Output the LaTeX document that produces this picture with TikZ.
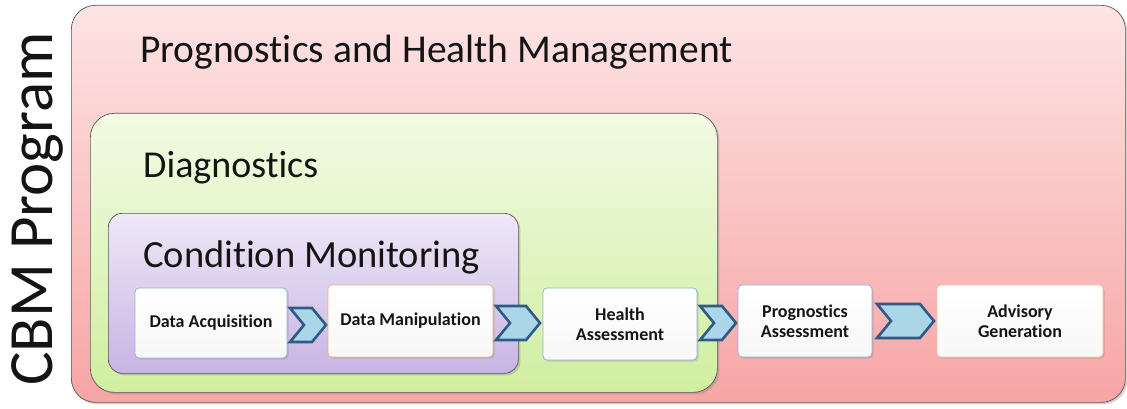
\documentclass[tikz,border=0pt]{standalone}
\usepackage{fontspec}
\setmainfont{Carlito}[Ligatures=NoCommon]
\usetikzlibrary{shadows}
\definecolor{redtop}{RGB}{253,228,228}
\definecolor{redbot}{RGB}{247,165,165}
\definecolor{greentop}{RGB}{242,251,228}
\definecolor{greenbot}{RGB}{208,238,160}
\definecolor{purptop}{RGB}{238,232,247}
\definecolor{purpbot}{RGB}{200,180,228}
\definecolor{chevfill}{RGB}{170,214,232}
\definecolor{chevline}{RGB}{46,90,135}
\definecolor{bblue}{RGB}{140,180,214}
\definecolor{borange}{RGB}{240,176,128}
\definecolor{txt}{RGB}{20,20,20}
\tikzset{
  x=1pt,y=-1pt,
  panel/.style={draw=gray!70!black, line width=0.7pt, rounded corners=24pt, drop shadow={shadow xshift=2pt,shadow yshift=-2pt,opacity=0.35}},
  stepbox/.style={draw=#1, line width=0.8pt, rounded corners=4pt, top color=white, bottom color=white!94!gray,
     font=\fontsize{18}{20}\selectfont\bfseries, text=txt, align=center, inner sep=0pt,
     drop shadow={shadow xshift=1.5pt,shadow yshift=-1.5pt,opacity=0.3}},
  chev/.style={draw=chevline, line width=2.6pt, fill=chevfill, line join=miter},
  title/.style={anchor=base west, text=txt, inner sep=0pt}
}
\newcommand{\chevron}[4]{% x0 x1 ymid name
  \path[chev] (#1,#3-17) -- (#2-14,#3-17) -- (#2,#3) -- (#2-14,#3+17) -- (#1,#3+17) -- (#1+14,#3) -- cycle;
  \coordinate (#4) at ({(#1+#2)/2},#3);
}
\begin{document}
\begin{tikzpicture}
\useasboundingbox (0,0) rectangle (1127,409);
\fill[white] (0,0) rectangle (1127,409);
% outer PHM
\node[panel, top color=redtop, bottom color=redbot, minimum width=1054pt, minimum height=397pt, anchor=north west, inner sep=0pt] (phm) at (71,5) {};
\node[title, font=\fontsize{39.5}{42}\selectfont] (phmt) at (140,63) {Prognostics and Health Management};
% diagnostics
\node[panel, top color=greentop, bottom color=greenbot, minimum width=627pt, minimum height=279pt, anchor=north west, inner sep=0pt] (diag) at (90,113) {};
\node[title, font=\fontsize{38}{42}\selectfont] (diagt) at (143,178) {Diagnostics};
% condition monitoring
\node[panel, top color=purptop, bottom color=purpbot, rounded corners=14pt, minimum width=410pt, minimum height=160pt, anchor=north west, inner sep=0pt] (cm) at (108,213) {};
\node[title, font=\fontsize{38.5}{42}\selectfont] (cmt) at (143,267) {Condition Monitoring};
% CBM label
\node[rotate=90, anchor=base, font=\fontsize{63}{66}\selectfont, text=txt, inner sep=0pt] (cbm) at (52,209) {CBM Program};
% step boxes
\node[stepbox=bblue, minimum width=152pt, minimum height=70pt] (da) at (211,323) {Data Acquisition};
\node[stepbox=borange, minimum width=165pt, minimum height=72pt] (dm) at (410.5,321) {Data Manipulation};
\node[stepbox=bblue, minimum width=154pt, minimum height=72pt] (ha) at (620,324) {Health\\Assessment};
\node[stepbox=bblue, minimum width=134pt, minimum height=72pt] (pa) at (805,321) {Prognostics\\Assessment};
\node[stepbox=borange!70, minimum width=166pt, minimum height=72pt] (ag) at (1020,321) {Advisory\\Generation};
% chevrons
\chevron{290}{326}{325}{c1}
\chevron{496}{540}{323}{c2}
\chevron{700}{736}{323}{c3}
\chevron{877}{934}{321}{c4}
\end{tikzpicture}
\end{document}
